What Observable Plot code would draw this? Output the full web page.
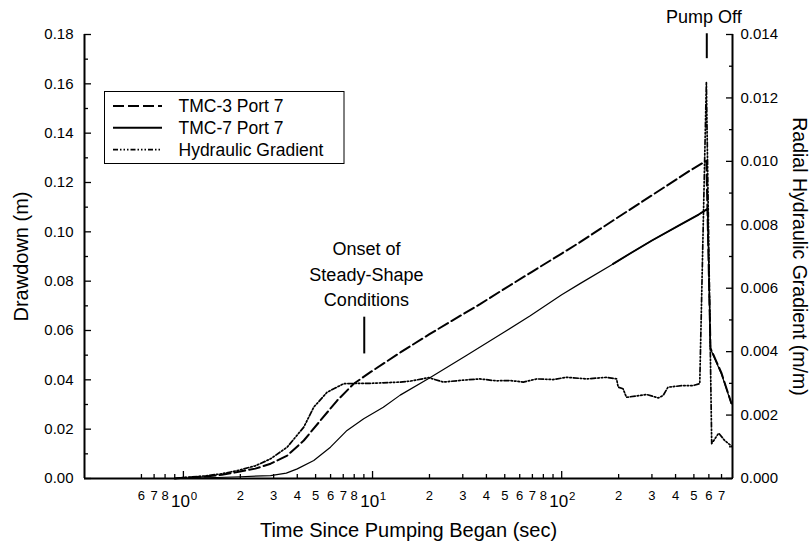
<!DOCTYPE html>
<html>
<head>
<meta charset="utf-8">
<script src="https://cdn.jsdelivr.net/npm/d3@7"></script>
<script src="https://cdn.jsdelivr.net/npm/@observablehq/plot@0.6"></script>
<style>
  body { margin: 0; background: #fff; }
  #wrap { position: relative; width: 811px; height: 543px; font-family: "Liberation Sans", Arial, sans-serif; }
  #legend { position: absolute; left: 104px; top: 91px; }
</style>
</head>
<body>
<div id="wrap"></div>
<script>
// ---- Data (time in seconds) ----
// TMC-3 Port 7 drawdown (m)
const tmc3Time = [0.9, 1.0, 1.3, 1.6, 1.93, 2.4, 2.89, 3.54, 4.33, 5.3, 6.5, 7.95, 9.74, 14.1, 20, 25.8, 37.2, 50, 70, 100, 125, 187, 300, 476, 582, 612, 699, 789];
const tmc3Drawdown = [0, 0.0003, 0.0008, 0.0015, 0.0026, 0.0040, 0.0060, 0.0093, 0.0154, 0.0235, 0.0316, 0.0384, 0.0431, 0.0512, 0.0585, 0.0636, 0.0708, 0.0770, 0.0839, 0.0912, 0.0958, 0.1046, 0.1148, 0.1248, 0.1288, 0.0528, 0.0428, 0.0305];

// TMC-7 Port 7 drawdown (m)
const tmc7Time = [0.9, 1.0, 1.5, 2.0, 2.89, 3.5, 4.0, 4.89, 5.99, 7.33, 8.98, 11.4, 14, 19.8, 31.5, 50, 68.2, 100, 125, 187, 230, 300, 422, 530, 590, 612, 699, 789];
const tmc7Drawdown = [0, 0.0001, 0.0004, 0.0007, 0.0012, 0.0022, 0.0039, 0.0073, 0.0127, 0.0195, 0.0242, 0.0289, 0.0338, 0.0405, 0.0500, 0.0595, 0.0660, 0.0745, 0.0790, 0.0870, 0.0912, 0.0965, 0.1028, 0.1070, 0.1093, 0.0526, 0.0424, 0.0303];

// Radial hydraulic gradient (m/m), right axis
const gradTime = [0.9, 1.0, 1.3, 1.6, 1.93, 2.4, 2.89, 3.54, 4.33, 4.89, 5.75, 7.04, 8.5, 9.74, 14, 15.8, 19.8, 23.7, 30, 37, 45, 53.3, 62.7, 73.8, 90, 106, 136, 173, 195, 199, 211, 220, 259, 281, 324, 344, 365, 438, 495, 537, 582, 621, 676, 727, 792];
const gradValue = [0, 0.00003, 0.00008, 0.00015, 0.00025, 0.0004, 0.00062, 0.00099, 0.00162, 0.00225, 0.00272, 0.00299, 0.00300, 0.00300, 0.00304, 0.00307, 0.00318, 0.00304, 0.00310, 0.00314, 0.00308, 0.00309, 0.00304, 0.00314, 0.00312, 0.00319, 0.00314, 0.00319, 0.00314, 0.00288, 0.00283, 0.00256, 0.00262, 0.00265, 0.00254, 0.00262, 0.00288, 0.00293, 0.00293, 0.00299, 0.0125, 0.0011, 0.00143, 0.0012, 0.00102];

// Axes
const xDomain = [0.3, 800];
const leftDomain = [0, 0.18];
const rightDomain = [0, 0.014];
const leftMajor = [0, 0.02, 0.04, 0.06, 0.08, 0.10, 0.12, 0.14, 0.16, 0.18];
const leftMinor = [0.01, 0.03, 0.05, 0.07, 0.09, 0.11, 0.13, 0.15, 0.17];
const rightMajor = [0, 0.002, 0.004, 0.006, 0.008, 0.010, 0.012, 0.014];
const rightMinor = [0.001, 0.003, 0.005, 0.007, 0.009, 0.011, 0.013];
const xDecades = [1, 10, 100];
const xMinor = [0.6, 0.7, 0.8, 0.9, 2, 3, 4, 5, 6, 7, 8, 9, 20, 30, 40, 50, 60, 70, 80, 90, 200, 300, 400, 500, 600, 700];
const xMinorLabels = ["6", "7", "8", "", "2", "3", "4", "5", "6", "7", "8", "", "2", "3", "4", "5", "6", "7", "8", "", "2", "3", "4", "5", "6", "7"];

// Annotations
const annoText = ["Onset of\nSteady-Shape\nConditions", "Pump Off"];
const annoTime = [9.28, 564];
const annoY = [0.0835, 0.1878];
const markerTime = [9.04, 585];
const markerY1 = [0.0505, 0.1702];
const markerY2 = [0.0654, 0.1803];

const seriesNames = ["TMC-3 Port 7", "TMC-7 Port 7", "Hydraulic Gradient"];

// ---- Build ----
const K = leftDomain[1] / rightDomain[1]; // right units -> left units
const tmc3 = tmc3Time.map((t, i) => ({t, v: tmc3Drawdown[i]}));
const tmc7 = tmc7Time.map((t, i) => ({t, v: tmc7Drawdown[i]}));
const grad = gradTime.map((t, i) => ({t, v: gradValue[i] * K}));
const annos = annoText.map((s, i) => ({s, t: annoTime[i], v: annoY[i]}));
const markers = markerTime.map((t, i) => ({t, y1: markerY1[i], y2: markerY2[i]}));

const FONT = "Liberation Sans, Arial, sans-serif";
const dash3 = "11,4";
const dashG = "5,2,1.5,2,1.5,2,1.5,2";
const noLabel = () => "";

const chart = Plot.plot({
  width: 811,
  height: 543,
  marginLeft: 84,
  marginRight: 79,
  marginTop: 34,
  marginBottom: 65,
  style: {fontFamily: FONT, background: "#fff", color: "#000", overflow: "visible"},
  x: {type: "log", domain: xDomain},
  y: {domain: leftDomain},
  marks: [
    // data lines
    Plot.line(grad, {x: "t", y: "v", stroke: "#000", strokeWidth: 1.7, strokeDasharray: dashG}),
    Plot.line(tmc7, {x: "t", y: "v", stroke: "#000", strokeWidth: 1.2}),
    Plot.line(tmc7, {filter: d => d.t >= 150 && d.t <= 600, x: "t", y: "v", stroke: "#000", strokeWidth: 1.9}),
    Plot.line(tmc3, {x: "t", y: "v", stroke: "#000", strokeWidth: 2, strokeDasharray: dash3}),
    // frame
    Plot.ruleY([0], {strokeWidth: 2}),
    Plot.ruleX(xDomain, {strokeWidth: 2}),
    // left axis (inward ticks)
    Plot.axisY(leftMajor, {anchor: "left", tickSize: 7, dx: 7, tickPadding: 11, tickFormat: d3.format(".2f"), fontSize: 15, label: null, strokeWidth: 1.3}),
    Plot.axisY(leftMinor, {anchor: "left", tickSize: 4, dx: 4, tickFormat: noLabel, label: null, strokeWidth: 1.3}),
    // right axis (inward ticks)
    Plot.axisY(rightMajor.map(v => v * K), {anchor: "right", tickSize: 7, dx: -7, tickPadding: 8, tickFormat: d => d3.format(".3f")(d / K), fontSize: 15, label: null, strokeWidth: 1.3}),
    Plot.axisY(rightMinor.map(v => v * K), {anchor: "right", tickSize: 4, dx: -4, tickFormat: noLabel, label: null, strokeWidth: 1.3}),
    // x axis (inward ticks)
    Plot.axisX(xMinor, {anchor: "bottom", tickSize: 4, dy: -4, tickFormat: noLabel, label: null, strokeWidth: 1.3}),
    Plot.axisX(xDecades, {anchor: "bottom", tickSize: 7, dy: -7, tickFormat: noLabel, label: null, strokeWidth: 1.3}),
    Plot.text(xMinor, {x: d => d, frameAnchor: "bottom", text: (d, i) => xMinorLabels[i], dy: 12.7, lineAnchor: "top", textAnchor: "middle", fontSize: 13}),
    Plot.text(xDecades, {x: d => d, frameAnchor: "bottom", text: () => "10", dx: 6.6, dy: 16, textAnchor: "end", lineAnchor: "top", fontSize: 17}),
    Plot.text(xDecades, {x: d => d, frameAnchor: "bottom", text: d => String(Math.round(Math.log10(d))), dx: 7.3, dy: 13.7, textAnchor: "start", lineAnchor: "top", fontSize: 11.5}),
    // axis titles
    Plot.text(["Time Since Pumping Began (sec)"], {frameAnchor: "bottom", dy: 52, lineAnchor: "middle", textAnchor: "middle", fontSize: 20}),
    Plot.text(["Drawdown (m)"], {frameAnchor: "left", dx: -63, rotate: -90, lineAnchor: "middle", textAnchor: "middle", fontSize: 20}),
    Plot.text(["Radial Hydraulic Gradient (m/m)"], {frameAnchor: "right", dx: 67, rotate: 90, lineAnchor: "middle", textAnchor: "middle", fontSize: 19.5}),
    // annotations
    Plot.ruleX(markers, {x: "t", y1: "y1", y2: "y2", strokeWidth: 2}),
    Plot.text(annos, {x: "t", y: "v", text: "s", lineAnchor: "middle", textAnchor: "middle", lineHeight: 1.417, fontSize: 18})
  ]
});

const wrap = document.getElementById("wrap");
wrap.appendChild(chart);

// legend
const lg = d3.select(wrap).append("svg").attr("id", "legend")
  .attr("width", 241).attr("height", 74)
  .style("font-family", FONT);
lg.append("rect").attr("x", 0.5).attr("y", 0.5).attr("width", 239.5).attr("height", 72)
  .attr("fill", "#fff").attr("stroke", "#000").attr("stroke-width", 1);
const rowsY = [15, 36.7, 58.7];
const styles = [
  {w: 2, d: dash3},
  {w: 2, d: null},
  {w: 1.7, d: dashG}
];
seriesNames.forEach((name, i) => {
  lg.append("line").attr("x1", 9).attr("x2", 58).attr("y1", rowsY[i]).attr("y2", rowsY[i])
    .attr("stroke", "#000").attr("stroke-width", styles[i].w)
    .attr("stroke-dasharray", styles[i].d);
  lg.append("text").attr("x", 74.5).attr("y", rowsY[i]).attr("dy", "0.35em")
    .attr("font-size", 17.5).text(name);
});
</script>
</body>
</html>
